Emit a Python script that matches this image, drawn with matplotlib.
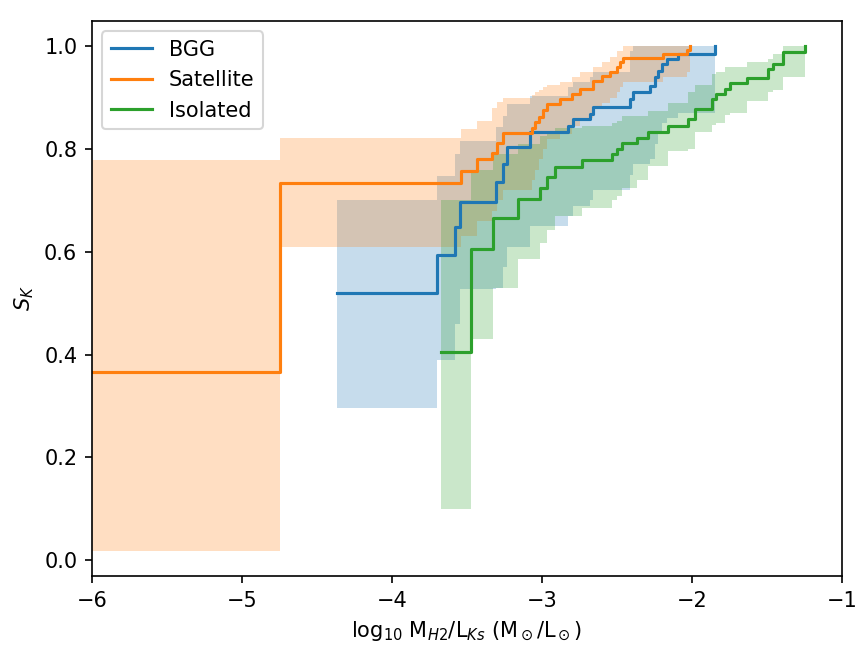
import numpy as np
import matplotlib
matplotlib.use("Agg")
import matplotlib.pyplot as plt

# Kaplan-Meier style step curves
bgg_x = [-4.367, -3.702, -3.58, -3.547, -3.307, -3.26, -3.233, -3.08, -2.827, -2.793, -2.68,
         -2.66, -2.413, -2.393, -2.28, -2.247, -2.227, -2.2, -2.167, -2.093, -1.847]
bgg_y = [0.52, 0.594, 0.648, 0.697, 0.735, 0.77, 0.803, 0.833, 0.845, 0.858, 0.868,
         0.881, 0.897, 0.91, 0.922, 0.94, 0.951, 0.965, 0.975, 0.984, 1.0]
bgg_lo = [0.296, 0.39, 0.46, 0.527, 0.53, 0.57, 0.61, 0.65, 0.67, 0.69, 0.70,
          0.72, 0.75, 0.77, 0.78, 0.81, 0.83, 0.85, 0.86, 0.87, 1.0]
bgg_hi = [0.70, 0.747, 0.79, 0.815, 0.842, 0.864, 0.887, 0.903, 0.92, 0.93, 0.94,
          0.95, 0.99, 1.0, 1.0, 1.0, 1.0, 1.0, 1.0, 1.0, 1.0]

sat_x = [-6.3, -4.747, -3.54, -3.43, -3.333, -3.30, -3.26, -3.067, -3.047, -3.02, -2.993, -2.967,
         -2.88, -2.80, -2.747, -2.66, -2.60, -2.547, -2.50, -2.48, -2.46, -2.193, -2.033, -2.013]
sat_y = [0.365, 0.733, 0.758, 0.780, 0.793, 0.812, 0.832, 0.840, 0.852, 0.862, 0.875, 0.888,
         0.897, 0.907, 0.917, 0.933, 0.943, 0.950, 0.960, 0.970, 0.978, 0.985, 0.993, 1.0]
sat_lo = [0.018, 0.61, 0.63, 0.66, 0.68, 0.70, 0.72, 0.74, 0.76, 0.78, 0.80, 0.82,
          0.83, 0.845, 0.86, 0.88, 0.89, 0.90, 0.91, 0.92, 0.93, 0.94, 0.95, 1.0]
sat_hi = [0.778, 0.822, 0.838, 0.854, 0.879, 0.891, 0.90, 0.905, 0.91, 0.915, 0.92, 0.925,
          0.93, 0.94, 0.95, 0.96, 0.97, 0.98, 0.99, 0.99, 1.0, 1.0, 1.0, 1.0]

iso_x = [-3.675, -3.475, -3.325, -3.158, -3.013, -2.969, -2.913, -2.735, -2.535, -2.502, -2.469, -2.369,
         -2.293, -2.16, -2.027, -1.98, -1.869, -1.836, -1.78, -1.747, -1.635, -1.493, -1.46, -1.393, -1.247]
iso_y = [0.404, 0.605, 0.665, 0.702, 0.725, 0.745, 0.765, 0.778, 0.79, 0.80, 0.811, 0.821,
         0.833, 0.845, 0.858, 0.877, 0.897, 0.907, 0.916, 0.929, 0.939, 0.955, 0.965, 0.989, 1.0]
iso_lo = [0.10, 0.43, 0.53, 0.585, 0.618, 0.643, 0.67, 0.686, 0.70, 0.708, 0.725, 0.74,
          0.767, 0.796, 0.80, 0.833, 0.846, 0.85, 0.866, 0.87, 0.893, 0.91, 0.915, 0.94, 0.94]
iso_hi = [0.70, 0.76, 0.79, 0.81, 0.825, 0.83, 0.84, 0.845, 0.85, 0.855, 0.864, 0.865,
          0.873, 0.89, 0.91, 0.925, 0.945, 0.95, 0.96, 0.96, 0.97, 0.975, 0.985, 1.0, 1.0]

groups = [("BGG", bgg_x, bgg_y, bgg_lo, bgg_hi, "C0"),
          ("Satellite", sat_x, sat_y, sat_lo, sat_hi, "C1"),
          ("Isolated", iso_x, iso_y, iso_lo, iso_hi, "C2")]

fig = plt.figure(figsize=(5.78, 4.387), dpi=150)
ax = fig.add_axes([0.106, 0.1246, 0.865, 0.8434])

for name, x, y, lo, hi, c in groups:
    ax.fill_between(x, lo, hi, step="post", color=c, alpha=0.25, linewidth=0)
for name, x, y, lo, hi, c in groups:
    ax.step(x, y, where="post", color=c, label=name)

ax.set_xlim(-6, -1)
ax.set_ylabel(r"$S_K$")
ax.set_xlabel(r"log$_{10}$ M$_{H2}$/L$_{Ks}$ (M$_\odot$/L$_\odot$)")
ax.legend(loc="upper left")

fig.savefig("out.png")
